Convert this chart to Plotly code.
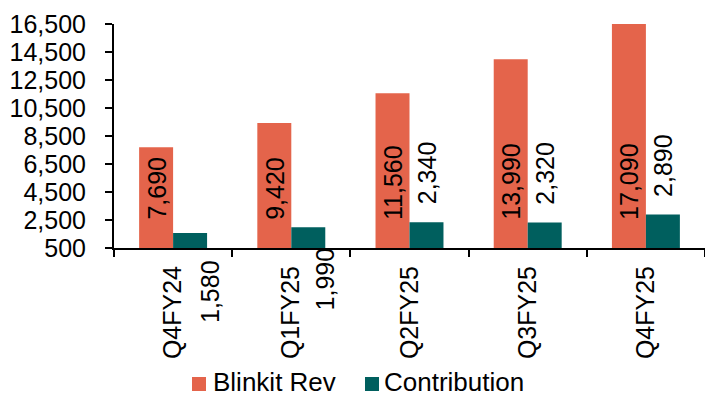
import plotly.graph_objects as go

quarters = ["Q4FY24", "Q1FY25", "Q2FY25", "Q3FY25", "Q4FY25"]
blinkit_rev = [7690, 9420, 11560, 13990, 17090]
contribution = [1580, 1990, 2340, 2320, 2890]
y_tick_vals = [500, 2500, 4500, 6500, 8500, 10500, 12500, 14500, 16500]
series_names = ["Blinkit Rev", "Contribution"]

REV_COLOR = "#E4644B"
CON_COLOR = "#005F5E"
FONT = "Liberation Sans, Arial, sans-serif"
FS = 25

W, H = 705, 396
ML, MR, MT, MB = 114, 0, 24, 148
PW, PH = W - ML - MR, H - MT - MB


def px_x(px):
    return (px - ML) / PW


def px_y(py):
    return (H - MB - py) / PH


# label pixel offsets (style only): (xshift, yshift, yanchor)
con_label_style = [(37, -59, "middle"), (34, -52, "middle"),
                   (17, 16, "bottom"), (17, 16, "bottom"), (17, 16, "bottom")]
# custom legend layout (pixels): marker left, text left
legend_items = [(192, 211), (365, 382)]
legend_marker_cy = 384
legend_text_cy = 382
legend_box = 14

fig = go.Figure()
fig.add_trace(go.Bar(x=quarters, y=blinkit_rev, name=series_names[0],
                     marker=dict(color=REV_COLOR, line=dict(width=0))))
fig.add_trace(go.Bar(x=quarters, y=contribution, name=series_names[1],
                     marker=dict(color=CON_COLOR, line=dict(width=0))))

annotations = []
for q, v in zip(quarters, blinkit_rev):
    annotations.append(dict(x=q, y=y_tick_vals[0], xref="x", yref="y",
                            text=f"{v:,}", textangle=-90, showarrow=False,
                            xanchor="center", yanchor="bottom", xshift=-17, yshift=26,
                            font=dict(family=FONT, size=FS, color="black")))
for q, v, (dx, dy, ya) in zip(quarters, contribution, con_label_style):
    annotations.append(dict(x=q, y=v, xref="x", yref="y",
                            text=f"{v:,}", textangle=-90, showarrow=False,
                            xanchor="center", yanchor=ya, xshift=dx, yshift=dy,
                            font=dict(family=FONT, size=FS, color="black")))

shapes = []
for (mx, tx), name, col in zip(legend_items, series_names, [REV_COLOR, CON_COLOR]):
    shapes.append(dict(type="rect", xref="paper", yref="paper",
                       x0=px_x(mx), x1=px_x(mx + legend_box),
                       y0=px_y(legend_marker_cy + legend_box / 2),
                       y1=px_y(legend_marker_cy - legend_box / 2),
                       fillcolor=col, line=dict(width=0)))
    annotations.append(dict(x=px_x(tx), y=px_y(legend_text_cy), xref="paper", yref="paper",
                            text=name, showarrow=False, xanchor="left", yanchor="middle",
                            font=dict(family=FONT, size=26, color="black")))

fig.update_layout(
    width=W, height=H,
    margin=dict(l=ML, r=MR, t=MT, b=MB),
    paper_bgcolor="white", plot_bgcolor="white",
    font=dict(family=FONT, size=FS, color="black"),
    barmode="group", bargap=0.425, bargroupgap=0,
    annotations=annotations, shapes=shapes,
    showlegend=False,
    xaxis=dict(type="category", showline=True, linecolor="black", linewidth=2,
               ticks="outside", tickson="boundaries", ticklen=7, tickwidth=2,
               tickcolor="black", tickangle=-90, showgrid=False,
               ticklabelstandoff=6, tickfont=dict(family=FONT, size=FS)),
    yaxis=dict(range=[500, 16500], tickvals=y_tick_vals,
               ticktext=[f"{v:,}" for v in y_tick_vals],
               showline=True, linecolor="black", linewidth=2,
               ticks="outside", ticklen=7, tickwidth=2, tickcolor="black",
               showgrid=False, zeroline=False, ticklabelstandoff=14,
               tickfont=dict(family=FONT, size=FS)),
)

fig.write_html("out.html")
